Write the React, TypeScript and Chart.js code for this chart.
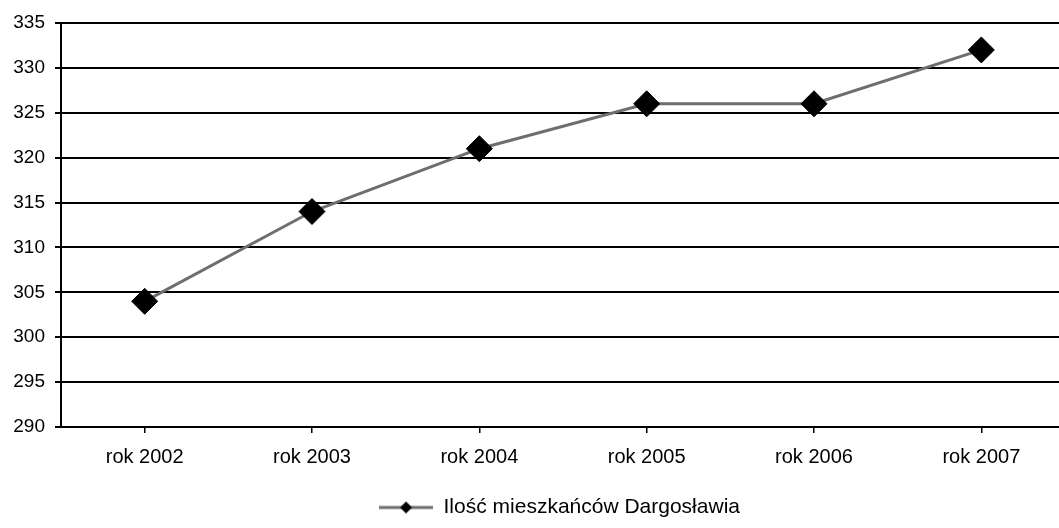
import React, { useEffect, useRef } from "react";
import { Chart, registerables } from "chart.js";

Chart.register(...registerables);

const categories = ["rok 2002", "rok 2003", "rok 2004", "rok 2005", "rok 2006", "rok 2007"];
const residents = [304, 314, 321, 326, 326, 332];
const seriesLabel = "Ilość mieszkańców Dargosławia";
const yMin = 290;
const yMax = 335;
const yStep = 5;

const FONT = "'Liberation Sans', Arial, sans-serif";

function makeLegendIcon(): HTMLCanvasElement {
  const c = document.createElement("canvas");
  c.width = 54;
  c.height = 14;
  const ctx = c.getContext("2d")!;
  ctx.strokeStyle = "#6e6e6e";
  ctx.lineWidth = 3;
  ctx.beginPath();
  ctx.moveTo(0, 7);
  ctx.lineTo(54, 7);
  ctx.stroke();
  ctx.fillStyle = "#000";
  ctx.beginPath();
  ctx.moveTo(27, 1);
  ctx.lineTo(33, 7);
  ctx.lineTo(27, 13);
  ctx.lineTo(21, 7);
  ctx.closePath();
  ctx.fill();
  return c;
}

const shiftLegend = {
  id: "shiftLegend",
  afterLayout(chart: any) {
    const l = chart.legend;
    if (l) {
      l.left += 27;
      l.right += 27;
    }
  },
};

export default function App() {
  const ref = useRef<HTMLCanvasElement | null>(null);

  useEffect(() => {
    if (!ref.current) return;
    const icon = makeLegendIcon();
    const chart = new Chart(ref.current, {
      type: "line",
      plugins: [shiftLegend],
      data: {
        labels: categories,
        datasets: [
          {
            label: seriesLabel,
            data: residents,
            borderColor: "#6e6e6e",
            borderWidth: 3,
            pointStyle: "rectRot",
            pointRadius: 13,
            pointBackgroundColor: "#000",
            pointBorderColor: "#000",
            pointBorderWidth: 1,
            tension: 0,
            fill: false,
          },
        ],
      },
      options: {
        responsive: false,
        animation: false,
        layout: { autoPadding: false, padding: { top: 23, right: 1, bottom: 0, left: 0 } },
        scales: {
          x: {
            offset: true,
            grid: {
              display: true,
              drawOnChartArea: false,
              drawTicks: true,
              tickLength: 6,
              color: "#000",
              lineWidth: 1.5,
            },
            border: { display: true, color: "#000", width: 2 },
            ticks: {
              color: "#000",
              font: { family: FONT, size: 20 },
              padding: 12,
              maxRotation: 0,
              autoSkip: false,
            },
            afterFit: (scale: any) => {
              scale.height = 68;
            },
          },
          y: {
            min: yMin,
            max: yMax,
            grid: {
              color: "#000",
              lineWidth: 2,
              tickLength: 6,
              drawTicks: true,
            },
            border: { display: true, color: "#000", width: 2 },
            ticks: {
              stepSize: yStep,
              color: "#000",
              font: { family: FONT, size: 19 },
              padding: 10,
            },
            afterFit: (scale: any) => {
              scale.width = 61;
            },
          },
        },
        plugins: {
          legend: {
            position: "bottom",
            labels: {
              usePointStyle: true,
              pointStyle: icon as any,
              pointStyleWidth: 54,
              padding: 2,
              color: "#000",
              font: { family: FONT, size: 21 },
              generateLabels: () => [
                {
                  text: seriesLabel,
                  pointStyle: icon as any,
                  fillStyle: "#000",
                  strokeStyle: "#000",
                  lineWidth: 0,
                  hidden: false,
                  datasetIndex: 0,
                  fontColor: "#000",
                },
              ],
            },
          },
          tooltip: { enabled: false },
        },
      },
    });
    return () => chart.destroy();
  }, []);

  return (
    <div
      style={{
        position: "fixed",
        left: 0,
        top: 0,
        width: 1059,
        height: 528,
        overflow: "hidden",
        background: "#fff",
      }}
    >
      <canvas ref={ref} width={1066} height={528} style={{ display: "block" }} />
    </div>
  );
}
